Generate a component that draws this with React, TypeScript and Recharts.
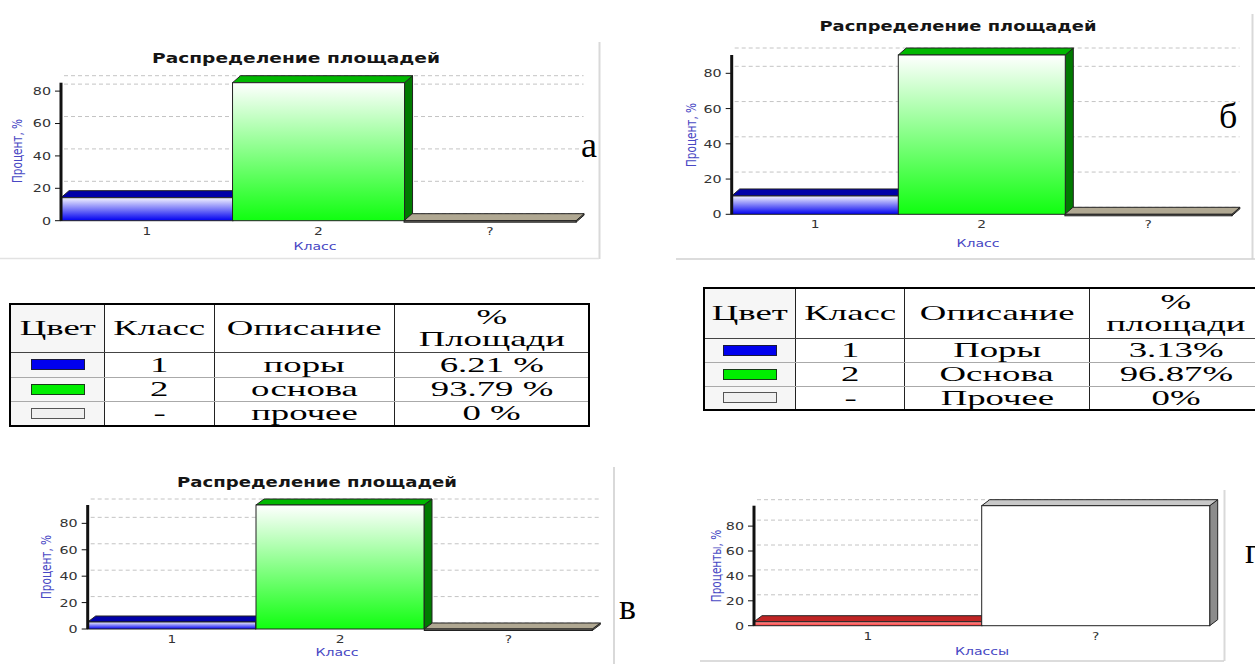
import React from "react";
import { BarChart, Bar, XAxis, YAxis, CartesianGrid } from "recharts";

// values (а, б, в, г)
const CLASSES_A = ["1", "2", "?"];
const PERCENT_A = [14.2, 85.2, 0];
const CLASSES_B = ["1", "2", "?"];
const PERCENT_B = [10.4, 90.4, 0];
const CLASSES_V = ["1", "2", "?"];
const PERCENT_V = [5.3, 93.9, 0];
const CLASSES_G = ["1", "?"];
const PERCENT_G = [3.2, 96.4];
const Y_TICKS = [0, 20, 40, 60, 80];

// legend tables
const TABLE_A_CLASS = ["1", "2", "-"];
const TABLE_A_DESC = ["поры", "основа", "прочее"];
const TABLE_A_SHARE = ["6.21 %", "93.79 %", "0 %"];
const TABLE_B_CLASS = ["1", "2", "-"];
const TABLE_B_DESC = ["Поры", "Основа", "Прочее"];
const TABLE_B_SHARE = ["3.13%", "96.87%", "0%"];

const FACES: Record<string, any> = {
  blue: { top: "#0000a8", side: "#000080", light: "#f4f4ff", dark: "#0000f0" },
  green: { top: "#00b800", side: "#007a00", light: "#ffffff", dark: "#10ff10" },
  plate: { top: "#b0a892", side: "#7a7462", light: "#77736a", dark: "#77736a" },
  red: { top: "#c02424", side: "#801010", light: "#ff9a9a", dark: "#ff3a3a" },
  white: { top: "#c8c8c8", side: "#8c8c8c", light: "#ffffff", dark: "#ffffff" },
};
const FACES_ABV = ["blue", "green", "plate"];
const FACES_G = ["red", "white"];
const SWATCH: Record<string, any> = {
  blue: { bg: "#0000ee", bd: "#1a1a3a" },
  green: { bg: "#00ee00", bd: "#1a3a1a" },
  other: { bg: "#f0f0f0", bd: "#555" },
};
const SWATCH_ROWS = ["blue", "green", "other"];

const SANS = "'DejaVu Sans', Tahoma, sans-serif";
const SERIF = "'Liberation Serif', 'Times New Roman', serif";
const AXIS_BLUE = "#4848c4";

function Box3D(props: any) {
  const { x, y, width, height, index, faces, dx, dy, gid } = props;
  const f = FACES[faces[index]];
  const id = `${gid}-${index}`;
  const x2 = x + width;
  const h = Math.max(height, 1.5);
  const y2 = y + h;
  return (
    <g>
      <defs>
        <linearGradient id={id} x1="0" y1="0" x2="0" y2="1">
          <stop offset="0%" stopColor={f.light} />
          <stop offset="100%" stopColor={f.dark} />
        </linearGradient>
      </defs>
      <polygon
        points={`${x2},${y} ${x2 + dx},${y - dy} ${x2 + dx},${y2 - dy} ${x2},${y2}`}
        fill={f.side}
        stroke="#222"
        strokeWidth={1}
      />
      <polygon
        points={`${x},${y} ${x + dx},${y - dy} ${x2 + dx},${y - dy} ${x2},${y}`}
        fill={f.top}
        stroke="#222"
        strokeWidth={1}
      />
      <rect x={x} y={y} width={width} height={h} fill={`url(#${id})`} stroke="#222" strokeWidth={1} />
    </g>
  );
}

function XTick({ x, y, payload }: any) {
  return (
    <g transform={`translate(${x},${y})`}>
      <text transform="scale(1.25,1)" textAnchor="middle" dy="0.71em" fontSize={11} fill="#333" fontFamily={SANS}>
        {payload.value}
      </text>
    </g>
  );
}

function YTick({ x, y, payload }: any) {
  return (
    <g transform={`translate(${x},${y})`}>
      <text transform="scale(1.3,1)" textAnchor="end" dy="0.36em" fontSize={11} fill="#333" fontFamily={SANS}>
        {payload.value}
      </text>
    </g>
  );
}

function Panel({ id, left, top, width, height, margin, yWidth, classes, values, faces, dx, dy }: any) {
  const data = classes.map((cls: string, i: number) => ({ cls, pct: values[i] }));
  return (
    <div style={{ position: "absolute", left, top }}>
      <BarChart width={width} height={height} data={data} margin={margin} barCategoryGap={0} barGap={0}>
        <CartesianGrid
          vertical={false}
          horizontal={(p: any) => (
            <line
              key={`h-${p.index}`}
              x1={p.x1 + 3}
              x2={p.x2 + dx}
              y1={p.y1 - dy}
              y2={p.y2 - dy}
              stroke="#c4c4c4"
              strokeDasharray="4 3"
            />
          )}
        />
        <XAxis
          dataKey="cls"
          axisLine={false}
          tickLine={false}
          tickSize={0}
          tickMargin={6}
          height={30}
          interval={0}
          tick={XTick}
        />
        <YAxis
          width={yWidth}
          domain={[0, "dataMax"]}
          ticks={Y_TICKS}
          axisLine={{ stroke: "#111", strokeWidth: 3 }}
          tickLine={{ stroke: "#111" }}
          tickSize={6}
          tickMargin={4}
          tick={YTick}
        />
        <Bar
          dataKey="pct"
          isAnimationActive={false}
          shape={(p: any) => <Box3D {...p} faces={faces} dx={dx} dy={dy} gid={id} />}
        />
      </BarChart>
    </div>
  );
}

function Stretch({ children, k = 1.75 }: any) {
  return <span style={{ display: "inline-block", transform: `scaleX(${k})` }}>{children}</span>;
}

function AreaTable({ left, top, colW, rowH, shareTitle, classes, descs, shares }: any) {
  const cell = (i: number, extra: any = {}) => ({
    width: colW[i],
    padding: 0,
    textAlign: "center" as const,
    borderLeft: "1.5px solid #222",
    borderRight: "1.5px solid #222",
    ...extra,
  });
  return (
    <table
      style={{
        position: "absolute",
        left,
        top,
        borderCollapse: "collapse",
        tableLayout: "fixed",
        width: colW.reduce((a: number, b: number) => a + b, 0),
        fontFamily: SERIF,
        fontSize: 21,
        lineHeight: "22px",
        color: "#000",
        border: "2px solid #000",
        background: "#fff",
      }}
    >
      <tbody>
        <tr style={{ height: rowH[0] }}>
          {["Цвет", "Класс", "Описание"].map((t, i) => (
            <td key={t} style={cell(i, { borderBottom: "1.5px solid #444", background: i === 0 ? "#f6f6f6" : "#fff" })}>
              <Stretch>{t}</Stretch>
            </td>
          ))}
          <td style={cell(3, { borderBottom: "1.5px solid #444" })}>
            <div>
              <Stretch>%</Stretch>
            </div>
            <div>
              <Stretch>{shareTitle}</Stretch>
            </div>
          </td>
        </tr>
        {classes.map((c: string, r: number) => {
          const sw = SWATCH[SWATCH_ROWS[r]];
          return (
            <tr key={r} style={{ height: rowH[r + 1] }}>
              <td style={cell(0, { borderBottom: "1px solid #aaa", background: "#f6f6f6" })}>
                <div
                  style={{
                    width: 52,
                    height: 9,
                    margin: "0 auto",
                    background: sw.bg,
                    border: `1.5px solid ${sw.bd}`,
                  }}
                />
              </td>
              <td style={cell(1, { borderBottom: "1px solid #aaa" })}>
                <Stretch>{c}</Stretch>
              </td>
              <td style={cell(2, { borderBottom: "1px solid #aaa" })}>
                <Stretch>{descs[r]}</Stretch>
              </td>
              <td style={cell(3, { borderBottom: "1px solid #aaa" })}>
                <Stretch>{shares[r]}</Stretch>
              </td>
            </tr>
          );
        })}
      </tbody>
    </table>
  );
}

function Title({ cx, y, len }: any) {
  return (
    <text
      x={cx}
      y={y}
      textAnchor="middle"
      textLength={len}
      lengthAdjust="spacingAndGlyphs"
      fontSize={14}
      fontWeight="bold"
      fill="#151515"
      fontFamily={SANS}
    >
      Распределение площадей
    </text>
  );
}

function YLabel({ cx, cy, text }: any) {
  return (
    <text
      transform={`translate(${cx},${cy}) scale(1.3,1) rotate(-90)`}
      textAnchor="middle"
      dominantBaseline="central"
      fontSize={10.5}
      fill={AXIS_BLUE}
      fontFamily={SANS}
    >
      {text}
    </text>
  );
}

function XLabel({ cx, y, text }: any) {
  return (
    <g transform={`translate(${cx},${y})`}>
      <text transform="scale(1.28,1)" textAnchor="middle" fontSize={11} fill={AXIS_BLUE} fontFamily={SANS}>
        {text}
      </text>
    </g>
  );
}

function Letter({ x, y, text }: any) {
  return (
    <text x={x} y={y} fontSize={36} fontFamily={SERIF} fill="#000">
      {text}
    </text>
  );
}

export default function App() {
  return (
    <div
      style={{
        position: "absolute",
        left: 0,
        top: 0,
        width: 1255,
        height: 664,
        overflow: "hidden",
        background: "#fff",
      }}
    >
      <Panel
        id="a"
        left={0}
        top={40}
        width={600}
        height={222}
        margin={{ top: 42.7, right: 24.4, bottom: 11.3, left: 0 }}
        yWidth={61}
        classes={CLASSES_A}
        values={PERCENT_A}
        faces={FACES_ABV}
        dx={8}
        dy={7}
      />
      <Panel
        id="b"
        left={670}
        top={10}
        width={585}
        height={250}
        margin={{ top: 45, right: 23.5, bottom: 15.7, left: 0 }}
        yWidth={61.7}
        classes={CLASSES_B}
        values={PERCENT_B}
        faces={FACES_ABV}
        dx={8}
        dy={7}
      />
      <Panel
        id="v"
        left={0}
        top={470}
        width={614}
        height={194}
        margin={{ top: 35, right: 21.4, bottom: 5, left: 0 }}
        yWidth={87.7}
        classes={CLASSES_V}
        values={PERCENT_V}
        faces={FACES_ABV}
        dx={8}
        dy={6}
      />
      <Panel
        id="g"
        left={690}
        top={480}
        width={534}
        height={184}
        margin={{ top: 25.7, right: 14.6, bottom: 8.3, left: 0 }}
        yWidth={64}
        classes={CLASSES_G}
        values={PERCENT_G}
        faces={FACES_G}
        dx={8}
        dy={6}
      />

      <AreaTable
        left={9}
        top={303}
        colW={[93, 109, 179, 193]}
        rowH={[48, 25, 24, 25]}
        shareTitle="Площади"
        classes={TABLE_A_CLASS}
        descs={TABLE_A_DESC}
        shares={TABLE_A_SHARE}
      />
      <AreaTable
        left={703}
        top={287}
        colW={[90, 108, 184, 172]}
        rowH={[50, 24, 24, 23]}
        shareTitle="площади"
        classes={TABLE_B_CLASS}
        descs={TABLE_B_DESC}
        shares={TABLE_B_SHARE}
      />

      <svg
        width={1255}
        height={664}
        style={{ position: "absolute", left: 0, top: 0, pointerEvents: "none" }}
      >
        {/* panel frames */}
        <line x1={599.5} y1={42} x2={599.5} y2={259} stroke="#d9d9d9" strokeWidth={2} />
        <line x1={0} y1={258.5} x2={599} y2={258.5} stroke="#e2e2e2" strokeWidth={1.5} />
        <line x1={1252.5} y1={14} x2={1252.5} y2={259} stroke="#d9d9d9" strokeWidth={2} />
        <line x1={676} y1={259} x2={1255} y2={259} stroke="#d0d0d0" strokeWidth={1.5} />
        <line x1={614} y1={467} x2={614} y2={664} stroke="#d9d9d9" strokeWidth={2} />
        <line x1={1224.5} y1={490} x2={1224.5} y2={661} stroke="#d9d9d9" strokeWidth={2} />
        <line x1={700} y1={661} x2={1224} y2={661} stroke="#d0d0d0" strokeWidth={1.5} />

        <Title cx={296} y={63} len={288} />
        <Title cx={958} y={31} len={277} />
        <Title cx={317} y={487} len={280} />

        <YLabel cx={18} cy={151} text="Процент, %" />
        <YLabel cx={692} cy={135} text="Процент, %" />
        <YLabel cx={47} cy={567} text="Процент, %" />
        <YLabel cx={717} cy={566} text="Проценты, %" />

        <XLabel cx={315} y={250} text="Класс" />
        <XLabel cx={978} y={247} text="Класс" />
        <XLabel cx={337} y={656} text="Класс" />
        <XLabel cx={982} y={655} text="Классы" />

        <Letter x={581} y={157} text="а" />
        <Letter x={1219} y={128} text="б" />
        <Letter x={619} y={619} text="в" />
        <Letter x={1245} y={563} text="г" />
      </svg>
    </div>
  );
}
